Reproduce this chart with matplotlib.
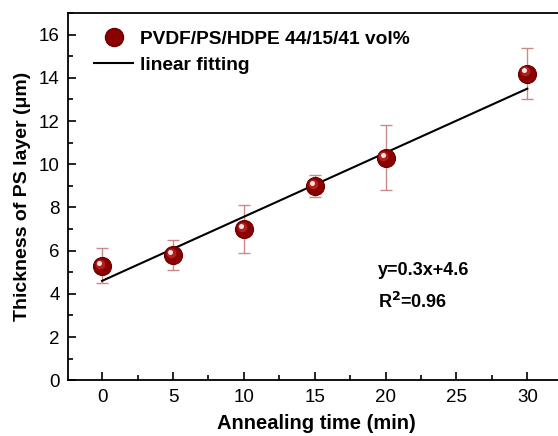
import matplotlib
matplotlib.use('Agg')
import matplotlib.pyplot as plt
import matplotlib.transforms as mtrans
from matplotlib.lines import Line2D
from matplotlib.ticker import MultipleLocator

plt.rcParams['font.family'] = ['Liberation Sans', 'DejaVu Sans']

# data
time_min = [0, 5, 10, 15, 20, 30]
thickness = [5.3, 5.8, 7.0, 9.0, 10.3, 14.2]
thickness_err = [0.8, 0.7, 1.1, 0.5, 1.5, 1.2]
fit_x = [0, 30]
fit_y = [4.6, 13.5]

dark_red = '#8b0000'
err_color = '#c98a8a'

fig = plt.figure(figsize=(5.58, 4.36), dpi=100)
ax = fig.add_axes([0.122, 0.128, 0.889, 0.842])

ax.errorbar(time_min, thickness, yerr=thickness_err, fmt='none',
            ecolor=err_color, elinewidth=1.0, capsize=4, capthick=1.0, zorder=1)
ax.plot(fit_x, fit_y, color='black', lw=1.5, zorder=2)
# sphere look: dark ball, lighter core, small highlight up-left
ax.plot(time_min, thickness, 'o', ms=13, color=dark_red, mec='#6a0000', mew=0.8, zorder=3)
shift = mtrans.offset_copy(ax.transData, fig=fig, x=-1.5, y=1.5, units='points')
ax.plot(time_min, thickness, 'o', ms=7, color='#b02020', mew=0, zorder=4, transform=shift)
shift2 = mtrans.offset_copy(ax.transData, fig=fig, x=-2.2, y=2.2, units='points')
ax.plot(time_min, thickness, 'o', ms=3.6, color='#f6e0e0', mew=0, zorder=5, transform=shift2)

ax.set_xlim(-2.4, 32.6)
ax.set_ylim(0, 17)
ax.xaxis.set_major_locator(MultipleLocator(5))
ax.xaxis.set_minor_locator(MultipleLocator(2.5))
ax.yaxis.set_major_locator(MultipleLocator(2))
ax.yaxis.set_minor_locator(MultipleLocator(1))
ax.tick_params(which='both', direction='in', top=False, right=False, labelsize=13.5, width=1.2)
ax.tick_params(which='major', length=6, pad=6)
ax.tick_params(which='minor', length=3.5)
for s in ax.spines.values():
    s.set_linewidth(1.3)
ax.spines['right'].set_visible(False)

ax.set_xlabel('Annealing time (min)', fontsize=14.5, fontweight='bold', labelpad=6)
ax.set_ylabel('Thickness of PS layer (μm)', fontsize=14, fontweight='bold', labelpad=6)

handles = [Line2D([], [], ls='none', marker='o', ms=13, color=dark_red, mec='#6a0000'),
           Line2D([], [], color='black', lw=1.5)]
ax.legend(handles, ['PVDF/PS/HDPE 44/15/41 vol%', 'linear fitting'], loc='upper left',
          frameon=False, prop={'weight': 'bold', 'size': 13.8}, borderaxespad=0.2,
          handlelength=2.0, handletextpad=0.4, labelspacing=0.45, bbox_to_anchor=(0.03, 0.985))

ax.text(0.625, 0.30, 'y=0.3x+4.6', transform=ax.transAxes, fontsize=13, fontweight='bold', va='center')
ax.text(0.625, 0.212, 'R$^{\\mathbf{2}}$=0.96', transform=ax.transAxes, fontsize=13, fontweight='bold', va='center')

fig.savefig('out.png', dpi=100)
